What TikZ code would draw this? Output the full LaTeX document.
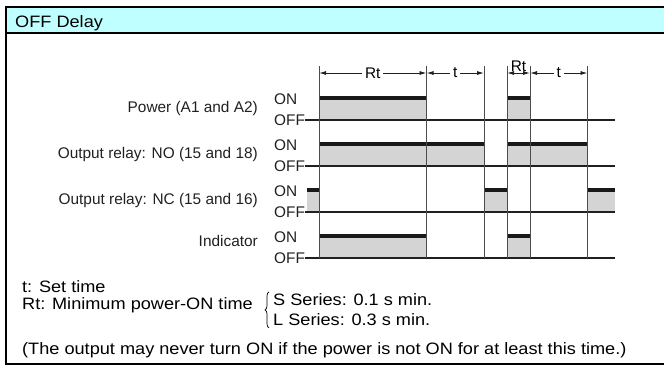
\documentclass[tikz,border=0pt]{standalone}
\usepackage{fontspec}
\setmainfont{Liberation Sans}
\newfontfamily\widefont[FakeStretch=1.1]{Liberation Sans}
\usetikzlibrary{arrows.meta,positioning,decorations.pathreplacing}
\definecolor{headcyan}{RGB}{192,255,255}
\definecolor{pulsegray}{RGB}{212,212,212}
\definecolor{inkgray}{RGB}{35,31,32}

\begin{document}
\begin{tikzpicture}[x=1pt, y=-1pt,
font=\fontsize{15.4}{18}\selectfont,
sigtext/.style={anchor=east, text=inkgray, inner sep=0pt},
levtext/.style={anchor=west, text=inkgray, inner sep=0pt},
notetext/.style={anchor=base west, inner sep=0pt, font=\widefont\fontsize{16.5}{19}\selectfont},
sigline/.style={draw=inkgray, line width=1.3pt},
ontrace/.style={draw=black!90, line width=3.4pt},
timeline/.style={draw=black!70, line width=0.9pt},
dimarrow/.style={{Latex[length=7pt,width=4pt]}-{Latex[length=7pt,width=4pt]}, draw=inkgray, line width=0.9pt},
bracket/.style={decorate, decoration={brace, amplitude=4pt}, line width=0.7pt}
]
\clip (0,0) rectangle (664,367);

% frame and title bar
\fill[headcyan] (6,7) rectangle (670,33);
\draw[line width=2.4pt] (6,7) rectangle (670,364);
\draw[line width=2pt] (6,33) -- (670,33);
\node[notetext] (title) at (15,27.5) {OFF Delay};

% signal names
\node[sigtext] (power) at (258,109) {Power (A1 and A2)};
\node[sigtext] (norelay) at (258,155) {Output relay: NO (15 and 18)};
\node[sigtext] (ncrelay) at (258,201) {Output relay: NC (15 and 16)};
\node[sigtext] (indic) at (258,241) {Indicator};

% levels
\node[levtext] (on1) at (274,99.5) {ON};
\node[levtext] (off1) at (274,120) {OFF};
\node[levtext] (on2) at (274,145.5) {ON};
\node[levtext] (off2) at (274,166) {OFF};
\node[levtext] (on3) at (274,191.5) {ON};
\node[levtext] (off3) at (274,212) {OFF};
\node[levtext] (on4) at (274,237.5) {ON};
\node[levtext] (off4) at (274,258) {OFF};

% pulses
\fill[pulsegray] (319,98) rectangle (426.5,120);
\fill[pulsegray] (507,98) rectangle (530,120);
\fill[pulsegray] (319,144) rectangle (484,166);
\fill[pulsegray] (507,144) rectangle (587.5,166);
\fill[pulsegray] (307,190) rectangle (319,212);
\fill[pulsegray] (484,190) rectangle (507,212);
\fill[pulsegray] (587.5,190) rectangle (615,212);
\fill[pulsegray] (319,236) rectangle (426.5,258);
\fill[pulsegray] (507,236) rectangle (530,258);

\draw[ontrace] (319,98) -- (426.5,98);
\draw[ontrace] (507,98) -- (530,98);
\draw[ontrace] (319,144) -- (484,144);
\draw[ontrace] (507,144) -- (587.5,144);
\draw[ontrace] (307,190) -- (319,190);
\draw[ontrace] (484,190) -- (507,190);
\draw[ontrace] (587.5,190) -- (615,190);
\draw[ontrace] (319,236) -- (426.5,236);
\draw[ontrace] (507,236) -- (530,236);

% OFF lines
\coordinate (xend) at (615,0);
\draw[sigline] (off1.east) -- (off1.east -| xend);
\draw[sigline] (off2.east) -- (off2.east -| xend);
\draw[sigline] (off3.east) -- (off3.east -| xend);
\draw[sigline] (off4.east) -- (off4.east -| xend);

% time marks
\coordinate (v1) at (319,66);
\coordinate (v2) at (426.5,66);
\coordinate (v3) at (484,66);
\coordinate (v4) at (507,66);
\coordinate (v5) at (530,66);
\coordinate (v6) at (587.5,66);
\draw[timeline] (v1) -- (v1 |- off4.east);
\draw[timeline] (v2) -- (v2 |- off4.east);
\draw[timeline] (v3) -- (v3 |- off4.east);
\draw[timeline] (v4) -- (v4 |- off4.east);
\draw[timeline] (v5) -- (v5 |- off4.east);
\draw[timeline] (v6) -- (v6 |- off4.east);

\draw[dimarrow] ([yshift=-7pt]v1) -- node[fill=white, inner xsep=3pt, inner ysep=0pt] (rt1) {Rt} ([yshift=-7pt]v2);
\draw[dimarrow] ([yshift=-7pt]v2) -- node[fill=white, inner xsep=3pt, inner ysep=0pt] (t1) {t} ([yshift=-7pt]v3);
\draw[dimarrow] ([yshift=-7pt]v4) -- node[above=1pt, inner sep=0pt] (rt2) {Rt} ([yshift=-7pt]v5);
\draw[dimarrow] ([yshift=-7pt]v5) -- node[fill=white, inner xsep=3pt, inner ysep=0pt] (t2) {t} ([yshift=-7pt]v6);

% notes
\node[notetext] (settime) at (22,292.5) {t: Set time};
\node[notetext] (minon) at (22,309.5) {Rt: Minimum power-ON time};
\node[notetext] (sser) at (273,305) {S Series: 0.1 s min.};
\node[notetext] (lser) at (273,325.5) {L Series: 0.3 s min.};
\draw[bracket] ([shift={(-4pt,-2pt)}]lser.south west) -- ([shift={(-4pt,1pt)}]sser.north west);
\node[notetext] (note) at (22,354) {(The output may never turn ON if the power is not ON for at least this time.)};
\end{tikzpicture}
\end{document}
